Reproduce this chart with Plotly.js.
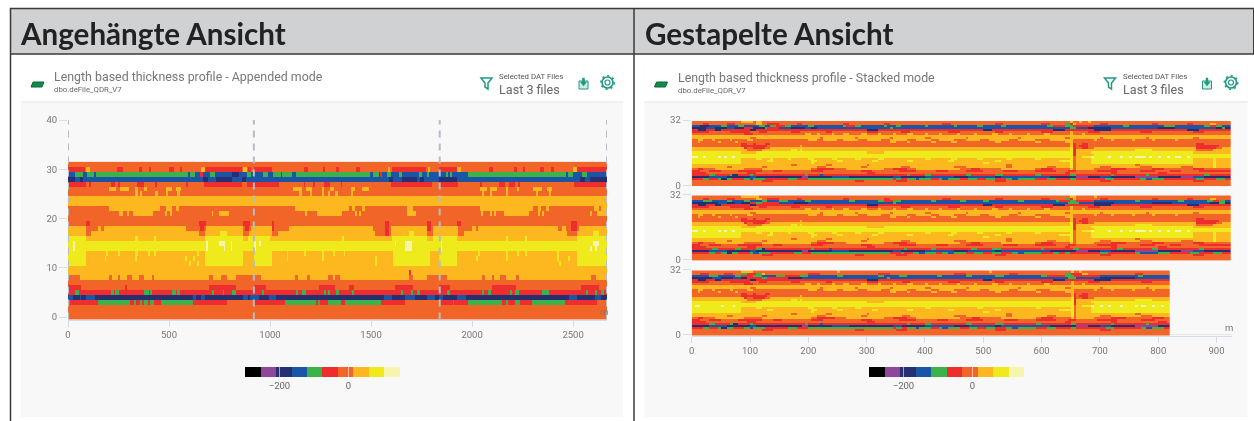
<!DOCTYPE html>
<html><head><meta charset="utf-8">
<script src="https://cdn.plot.ly/plotly-3.0.1.min.js"></script>
<style>html,body{margin:0;padding:0;background:#fff;overflow:hidden}#c{width:1254px;height:421px;filter:blur(0.4px)}</style>
</head><body><div id="c"></div>
<script>
// Value classes: midpoint of each colour bin of the legend (-300..150 in steps of 45)
const classValues = {K:-277.5,P:-232.5,N:-187.5,B:-142.5,G:-97.5,R:-52.5,O:-7.5,A:37.5,Y:82.5,W:127.5};
const binColors = ['#000000','#8e4799','#262f72','#1b55a5','#3cb34a','#ee2e2e','#f26529','#fdb71f','#eeea1c','#f7f4b0'];
const legendTicks = [-200,0];
const fileBoundaries = [0,920,1840,2668];
const appendedXTicks = [0,500,1000,1500,2000,2500];
const appendedYTicks = [0,10,20,30,40];
const stackedXTicks = [0,100,200,300,400,500,600,700,800,900];
const stackedYTicks = [0,32];
const fileLengths = [920,920,828];
const stackedLengths = [926,926,821];

// Each row, top (31) to bottom (0): class letter plus the metre at which it starts
const appendedFile1 = [
"O",
"R O84 A89 O109 R244 O269 R351 O365 R401 O409 R500 O525 R554 O566 A662 R681 O860 A866 O884 R890 O905",
"B G35 B76 G96 B129 G142 B596 G607 B629 R653 B670 G703 B731 N810 B843 G884 B906",
"N B35 N60 B76 N670 B695 N736 B810 N860 B880",
"R O89 R105 O117 R216 O233 R250 O258 R340 O376 R430 O438 R587 O596 R673 O860 R885",
"O A203 O238 A261 O299 A332 O343 A373 O389 A485 O513 A535 O558",
"O A332 O343 A356 O365 A431 O447 A485 O497 A541 O554",
"A",
"A",
"O A203 O455 A485 O513 A535 O548",
"O A257 O269 A290 O298 A320 O422 A480 O488 A505 O513 A714 O722 A749 O802",
"O",
"O R89 O109 R650 O683 R865 O898",
"A O89 A150 O165 A180 O587 R655 O675 A683 O865 R875 O895 A905",
"A O89 A117 O650 A680 Y757 A790 O865 A895",
"Y A89 Y332 A343 Y426 A436 Y680 A865 Y890",
"Y W26 Y36 W683 Y693 W752 Y780 W803 Y811",
"Y W26 Y36 W683 Y693 W775 Y781 W803 Y811",
"Y A89 Y190 A200 Y250 A258 Y332 A343 Y395 A403 Y426 A436 Y640 A650 Y680 A865",
"Y A89 Y185 A190 Y332 A340 Y580 A590 Y620 A628 Y680 A865",
"Y A89 Y600 A612 Y640 A652 Y680 A865",
"A",
"A",
"O A60 O205 A222 O250 A262 O290 A315 O350 A375 O415 A425 O700 A720 O760 A790 O830",
"O",
"R O63 R280 O290 R700 O830",
"R G35 R54 G216 R229 G236 R257 G373 R398 G406 R414 G513 R533 G541 R554 G716 R723 G769 R777 G810 R830",
"B N23 B58 N66 B89 N134 B620 N637 B662 N681 B865 N890 B900",
"O R10 G150 R307 G323 R336 G353 R365 G373 R393 G406 R427 G460 R620 O790",
"O","O","O"];
const appendedFile2 = [
"O",
"R O89 R249 O271 R343 O353 R409 O422 R505 O525 A667 O677 R686 O855 A865 O876",
"B G43 B68 G96 B134 G142 B191 G208 B574 G590 B620 R625 B637 G662 B678 G719 B736 G818 B835 G860 B870",
"B N670 B690 N736 B810 N826 B845",
"R O109 R112 O125 R249 O257 R296 O304 R348 O381 R430 O436 R678 O884",
"O A196 O241 A261 O290 A340 O348 A381 O398 A480 O500 A535 O568",
"O A225 O241 A280 O288 A340 O348 A370 O378 A405 O413 A480 O490",
"A",
"A",
"O A205 O470 A485 O500 A535 O548 A762 O790",
"O A257 O265 A315 O433 A500 O508 A520 O528 A762 O806",
"O",
"O R90 O100 R650 O670 R860 O880",
"A R90 O100 A175 O590 R650 O670 A680 R860 O880 A890",
"A O90 A120 O600 R650 O670 A680 Y770 A795 O860 A890",
"Y A80 Y436 A444 Y686 A860 Y890",
"W Y8 W26 Y33 W700 Y707 W752 Y785",
"W Y8 W752 Y785",
"Y A90 Y165 A172 Y250 A258 Y340 A350 Y395 A405 Y445 A452 Y690 A875",
"Y A90 Y165 A172 Y340 A350 Y600 A612 Y690 A875",
"Y A90 Y600 A612 Y690 A875",
"A",
"A R770 A778",
"O A35 O205 A222 O265 A280 O370 A395 O405 A425 O770 A790 O860",
"O",
"R O60 R325 O405 R470 O495 R700 O790",
"R G40 R48 G209 R218 G240 R262 G348 R358 G370 R380 G408 R420 G485 R495 G730 R740 G780 R790 G810 R825",
"B N26 B76 N112 B645 N686 B752 N802 B860 N900",
"R G155 R312 G320 R330 G370 R432 G452 R629 O748",
"O","O","O"];
const appendedFile3 = [
"O",
"R A87 O104 R244 O264 R368 O385 R414 O426 R500 O521 R554 O566 A660 R678",
"B G30 B38 G50 B62 G142 B624 G637 B660 G703 B731",
"N B87 N695 B720 N745",
"R O90 R200 O208 R294 O327 R343 O373 R392 O400 R665",
"O A200 O236 A252 O285 A330 O340 A385 O393 A467 O511 A533 O561",
"O A212 O222 A252 O260 A330 O340 A478 O488 A545 O555",
"A",
"A",
"O A200 O465 A490 O505 A530 O545 A765 O790 A800",
"O A205 O215 A250 O260 A270 O278 A320 O445 A490 O498 A510 O518 A745 O755 A782",
"O",
"O R87 O105 R650 O680",
"A O88 A162 O178 A192 O585 A605 O625 R650 O680 A690",
"A O88 A120 O630 A680 Y760 A790",
"Y A87 Y330 A338 Y425 A435 Y680",
"Y W10 Y16 W760 Y790",
"Y W10 Y16 W745 Y755 W772 Y780",
"Y A87 Y190 A198 Y330 A338 Y385 A395 Y425 A435 Y580 A590 Y680",
"Y A87 Y180 A190 Y330 A338 Y580 A590 Y635 A645 Y680",
"Y A87 Y590 A600 Y680",
"A",
"A",
"O A35 O210 A225 O258 A270 O300 A330 O380 A395 O750 A775",
"O",
"R O50 R260 O380 R700 O790",
"R G33 R50 G210 R220 G240 R257 G350 R362 G375 R395 G510 R545 G723 R735 G770 R778 G800 R815",
"B N20 B85 N130 B640 N680 B770 N800",
"R G63 R72 G140 R310 G330 R340 G375 R398 G460 R620 O780",
"O","O","O"];

const stackedFile1 = [
"O A85 O105 A112 O120 A650 O655 A665 O670 A680 O685",
"O R20 O30 R60 O75 A110 O118 R130 O150 R180 O190 R260 O270 R330 O340 R430 O445 R520 O535 R600 O615 G640 R648 A655 O660 R700 O715 R790 O800 R850 O860 A890 O900",
"B N15 B30 G50 B60 G80 B90 G115 B125 G135 R145 G160 B170 G200 B208 G260 R265 G280 B290 G330 B337 G350 B360 G400 B405 G450 B455 G490 B500 G530 B540 G610 R620 G640 R655 B690 G740 B750 G810 B830 G880 R890 G900 B910",
"N B25 N40 B60 N75 R90 N105 G125 R130 B150 N170 B195 N205 B215 G340 B345 G650 B660 N680 B720 N800 B830 N900 G910 N915",
"R N10 R25 N40 R50 N100 R110 N300 R320 N500 R515 N620 R640 N690 R720 N850 R870",
"R O30 R65 O100 R115 O130 R170 O185 R230 O240 R300 O320 R360 O375 R440 O460 R520 O535 R600 O620 A650 O655 R680 O700 R770 O790 R860 O880",
"O R90 O105 A195 O203 A215 O222 A240 O246 A262 O270 A290 O298 A320 O326 A345 O352 A372 O380 A400 O406 A425 O432 A455 O462 A485 O492 A515 O525 A545 O552 A575 O582 A605 O615 A650 O655 A670 O675",
"A",
"A O100 A110 O220 A226 O280 A285 O340 A346 O400 A408 O470 A476 O560 A566 O640 A650 O700 A706 O780 A785 O860 A870",
"O A10 O22 A35 O42 A65 O72 A95 O105 A200 O215 A225 O250 A260 O285 A300 O325 A340 O370 A385 O410 A425 O450 A470 O495 A510 O545 A560 O590 A615 A650 O655 A690 O695 A720 O725 A755 O760 A790 O795 A830 O835",
"O A10 O15 A45 O50 A75 O80 A340 O348 A370 O376 A410 O418 A445 O455 A520 O530 A590 O598 A640 O655",
"O R85 O95 R105 O112 R125 O135 A650 R655 O660 R670 O680 R865 O880",
"O R85 O128 A185 O190 A650 R655 O660 R665 O680 R863 O905",
"A R90 O95 R105 O125 A135 Y650 R655 O660 R670 O680 A690 R865 O900 A910",
"A O95 A120 Y170 A178 Y185 A190 Y650 R655 A660 Y760 A790 O865 A895",
"Y A85 Y110 A300 Y330 R655 A660 Y683 A860",
"Y R655 A660 Y690",
"W Y3 W7 Y10 W14 Y17 W21 Y24 W47 Y52 W57 Y62 W70 Y74 W84 Y87 O655 A660 Y670 W686 Y692 W698 Y702 W714 Y720 W735 Y742 W750 Y756 W762 Y768 W772 Y780 W786 Y792 W800 Y806 W814 Y818 W830 Y838 W850 Y856",
"Y A85 Y110 A118 Y135 A142 Y165 A172 Y200 A208 Y240 A250 Y280 A290 Y320 A330 Y400 A408 Y445 A455 Y490 A500 Y540 A548 Y590 A600 Y650 O655 A660 Y683 A860 Y895 A900",
"Y A85 Y130 A138 Y205 A213 Y250 A258 Y310 A318 Y370 A378 Y440 A448 Y520 A528 Y630 O655 A660 Y683 A860 Y895 A900",
"Y A85 Y205 A212 Y500 A510 Y650 O655 A660 Y683 A860 Y895 A900",
"A O170 A178 O230 A238 O300 A306 O540 A548 Y650 O655 A660 O760 A768 Y895 A900",
"A O60 A70 O120 A130 O215 A228 O290 A298 O360 A375 O450 A470 O540 A552 O610 A625 Y650 O655 A660 O700 A720 O770 A790 O840 A860 Y895 A900",
"O R10 O22 A40 O90 A120 O205 R215 O245 A265 O330 R345 O370 A385 O460 R480 O495 A530 O590 R600 O620 A650 O655 A660 O690 R720 O745 R790 O810 R860 O880",
"R O15 R30 O50 R80 O120 R140 O155 R205 O225 R290 O310 R355 O385 R420 O440 R470 O500 R535 O560 R590 O625 R645 O660 R695 O730 R770 O795 R820 O840 R870",
"R O25 R95 O110 R300 O315 R640 O650 R720 O730 R800 O815",
"R G30 R40 G65 N72 R80 G100 R105 G195 R200 B218 R225 G370 R376 G400 R410 G470 R480 G520 R535 G590 R598 G650 R660 G720 R726 G780 R785 G880 R890",
"N B30 N60 B100 N112 P190 N200 B240 N270 B345 N360 B400 N450 B475 N520 B530 N615 P660 N680 B700 N720 P760 N800 P840 B860 N880",
"R G20 R28 G45 N52 G60 R70 G90 B98 G105 R125 G165 R180 G198 R345 G348 R360 G372 B385 G392 R410 G425 B432 G440 R460 G475 R490 G505 R520 G540 B548 G560 R590 G610 R625 G650 R660 G710 R725 G770 B780 G790 R810 G865 R880 G900 R915",
"O R120 O140 R280 O295 R350 O370 R520 O540 R700 O720 R860 O880",
"O","O"];
// Rows of the 2nd and 3rd file that differ from the first (row index from the top)
const stackedFile2Changes = {
 0:"O A85 O115 A650 O660 A690 O695",
 2:"B G20 B35 G60 B72 G90 B100 G120 B128 G150 B165 G195 B205 G270 B280 G320 R330 G345 B360 G410 B420 G460 B470 G500 B512 G560 B570 G625 R632 G650 R660 B690 G760 B770 G835 B845 G885 R895 G905 B915",
 3:"N B45 N60 B75 N85 R100 G112 R120 B150 N175 B200 G345 B352 G645 B665 N690 B725 N790 B825 N890 G905 N915",
 26:"R G35 R46 G75 R85 G110 N118 R125 G205 R212 B235 R242 G365 R372 G410 R418 G480 R490 G515 R530 G600 R606 G655 R665 G730 R738 G790 R798 G870 R882",
 28:"R G30 R38 G50 N60 G70 R80 G100 B106 G115 R135 G175 R188 G205 R340 G358 R365 G380 B392 G400 R420 G430 B440 G450 R470 G485 R498 G515 R530 G550 B558 G570 R600 G620 R632 G640 R650 G700 R715 G760 B772 G800 R820 G855 R870 G895 R910"
};
const stackedFile3Changes = {
 0:"O A85 O105 A250 O256 A510 O516 A650 O655 A665 O670",
 1:"O R15 O30 R55 O70 G85 R95 G110 A118 O125 R200 O220 R320 O340 R450 O470 R545 O560 G640 R650 A670 O680 R760 O775",
 2:"B G30 B45 G75 R85 G105 B120 G145 R160 G185 B200 G250 B260 G320 B330 G355 B372 G420 B430 G470 B480 G520 B535 G600 R612 G640 R655 B700 G765 B775",
 3:"N B35 N50 B70 N85 R95 G120 R128 N165 B190 G335 B342 G645 B660 N700 B760",
 18:"Y A85 Y110 A118 Y200 A208 Y240 A250 Y280 A290 Y400 A408 Y490 A500 Y590 A600 Y650 O655 A660 Y683",
 17:"Y W5 Y8 W12 Y15 W20 Y22 W50 Y53 W60 Y62 W70 Y74 O655 A660 Y670 W686 Y690 W700 Y704 W716 Y720 W735 Y740 W748 Y752 W762 Y766 W772 Y782 W790 Y795 W805 Y809",
 15:"Y A85 Y110 A300 Y330 R655 A660 Y683"
};

function expandRow(row, lengthM, step){
  const toks = row.split(' ').map(t => [t[0], t.length > 1 ? +t.slice(1) : 0]);
  const out = [];
  for (let i = 0, n = Math.round(lengthM/step); i < n; i++){
    const c = i*step + step/2;
    let k = toks[0][0];
    for (const t of toks) if (t[1] <= c) k = t[0];
    out.push(classValues[k]);
  }
  return out;
}
const STEP = 5;
const appendedFiles = [appendedFile1, appendedFile2, appendedFile3];
const appendedZ = [];
for (let r = 0; r <= 31; r++){
  let line = [];
  appendedFiles.forEach((f,i) => { line = line.concat(expandRow(f[31-r], fileLengths[i], STEP)); });
  appendedZ.push(line);
}
function stackedZ(changes, len){
  const z = [];
  for (let r = 0; r <= 31; r++){
    const top = 31-r;
    z.push(expandRow(changes[top] || stackedFile1[top], len, STEP));
  }
  return z;
}
const colorscale = [];
binColors.forEach((c,i) => { colorscale.push([i/10,c]); colorscale.push([(i+1)/10,c]); });

const W = 1254, H = 421;
const px = x => x/W, py = y => 1-y/H;
const tickFont = {family:'Roboto, sans-serif', size:9.5, color:'#777'};

function cbar(x0){
  return {orientation:'h', lenmode:'pixels', len:155, thicknessmode:'pixels', thickness:10,
    x:px(x0), xanchor:'left', y:py(367), yanchor:'top', xpad:0, ypad:0, outlinewidth:0, borderwidth:0,
    tickmode:'array', tickvals:legendTicks, ticktext:['\u2212200','0'], ticks:'inside', ticklen:10, tickwidth:1,
    tickcolor:'rgba(255,255,255,0.55)', tickfont:{family:'Roboto, sans-serif', size:9.5, color:'#666'}};
}
const common = {type:'heatmap', colorscale, zmin:-300, zmax:150, zsmooth:false, hoverinfo:'skip', x0:STEP/2, dx:STEP, y0:0, dy:1};
const traces = [
  Object.assign({}, common, {z:appendedZ, xaxis:'x', yaxis:'y', colorbar:cbar(245), showscale:true}),
  Object.assign({}, common, {z:stackedZ({}, stackedLengths[0]), xaxis:'x2', yaxis:'y2', colorbar:cbar(869), showscale:true}),
  Object.assign({}, common, {z:stackedZ(stackedFile2Changes, stackedLengths[1]), xaxis:'x2', yaxis:'y3', showscale:false}),
  Object.assign({}, common, {z:stackedZ(stackedFile3Changes, stackedLengths[2]), xaxis:'x2', yaxis:'y4', showscale:false})
];

const axisLine = '#d6dde6';
function xAxis(dom, range, ticks, anchor){
  return {domain:[px(dom[0]),px(dom[1])], range, anchor, tickmode:'array', tickvals:ticks, ticks:'outside', ticklen:6, tickwidth:1,
    tickcolor:axisLine, showline:true, linecolor:axisLine, linewidth:1, showgrid:false, zeroline:false, tickfont:tickFont};
}
function yAxis(top, bottom, range, ticks){
  return {domain:[py(bottom),py(top)], range, tickmode:'array', tickvals:ticks, ticks:'outside', ticklen:8, tickwidth:1,
    tickcolor:axisLine, showgrid:true, gridcolor:'#e4e6ea', gridwidth:1, zeroline:false, showline:false, tickfont:tickFont};
}
const yA = yAxis(120,319.5,[-0.5,40],appendedYTicks); yA.anchor='x';
const y2 = yAxis(120,186.3,[-0.5,32],stackedYTicks); y2.anchor='x2';
const y3 = yAxis(194.5,260.8,[-0.5,32],stackedYTicks); y3.anchor='x2';
const y4 = yAxis(269.5,336,[-0.5,32],stackedYTicks); y4.anchor='x2';

const FRAME = '#3a3a3a', TEAL = '#1f9a80';
function rect(x0,y0,x1,y1,fill,line){
  return {type:'rect', xref:'paper', yref:'paper', x0:px(x0), x1:px(x1), y0:py(y0), y1:py(y1), fillcolor:fill,
    line:line ? {color:line,width:1.5} : {width:0}, layer:'below'};
}
function seg(x0,y0,x1,y1,color,width){
  return {type:'line', xref:'paper', yref:'paper', x0:px(x0), x1:px(x1), y0:py(y0), y1:py(y1), line:{color,width}, layer:'below'};
}
function pathShape(points, color, fill, width){
  const d = points.map((p,i)=>(i?'L':'M')+px(p[0])+','+py(p[1])).join(' ')+' Z';
  return {type:'path', xref:'paper', yref:'paper', path:d, line:{color,width:width||1.5}, fillcolor:fill||'rgba(0,0,0,0)', layer:'above'};
}
function circle(cx,cy,r,color,width,dash){
  return {type:'circle', xref:'paper', yref:'paper', x0:px(cx-r), x1:px(cx+r), y0:py(cy+r), y1:py(cy-r),
    line:{color,width,dash:dash||'solid'}, layer:'above'};
}
function cardShapes(dx){
  return [
    rect(21+dx,64,623+dx+(dx?1:0),417,'#f8f8f8'),
    rect(21+dx,64,623+dx+(dx?1:0),101,'#ffffff'),
    seg(21+dx,102,623+dx+(dx?1:0),102,'#eeeeee',1.5),
    pathShape([[33+dx,82],[44+dx,82],[42+dx,87],[31+dx,87]],'#0d6b3a','#138a4b',1),
    pathShape([[481+dx,78],[492+dx,78],[488+dx,83],[488+dx,89],[485+dx,87],[485+dx,83]],TEAL,null,1.5),
    pathShape([[579+dx,81],[579+dx,89],[588+dx,89],[588+dx,81]],TEAL,'rgba(31,154,128,0.2)',1),
    pathShape([[582.5+dx,78],[584.5+dx,78],[584.5+dx,82],[586.5+dx,82],[583.5+dx,86],[580.5+dx,82],[582.5+dx,82]],TEAL,TEAL,0.5),
    circle(607.5+dx,82.5,2.5,TEAL,1.2),
    circle(607.5+dx,82.5,5.5,TEAL,1.6),
    circle(607.5+dx,82.5,6.7,TEAL,1.6,'2px,3.2px')
  ];
}
const dashed = fileBoundaries.map(b => ({type:'line', xref:'x', yref:'y', x0:b, x1:b, y0:-0.5, y1:40,
  line:{color:'#b4bcc4', width:2, dash:'7px,6px'}, layer:'above'}));

const shapes = [
  rect(10,9,1254,54,'#d0d1d3'),
  seg(10,8.5,1254,8.5,FRAME,1.5), seg(10,54,1254,54,FRAME,1.5),
  seg(10.5,8,10.5,421,FRAME,1.5), seg(634,8,634,421,FRAME,1.5),
  seg(1253.5,8,1253.5,54,FRAME,1)
].concat(cardShapes(0), cardShapes(623.5), dashed);

function label(x,y,text,size,color,extra){
  return Object.assign({xref:'paper',yref:'paper',x:px(x),y:py(y),text,showarrow:false,xanchor:'left',yanchor:'middle',
    xshift:0,yshift:0,borderpad:0,font:{family:'Roboto, sans-serif',size,color}},extra||{});
}
const boldHead = {family:'"Lato", "Open Sans", sans-serif', size:29.6, weight:700, color:'#222'};
const annotations = [
  Object.assign(label(19,33,'Angehängte Ansicht',30,'#222'),{font:boldHead}),
  Object.assign(label(643.5,33,'Gestapelte Ansicht',30,'#222'),{font:boldHead}),
  label(52.5,77,'Length based thickness profile - Appended mode',12.4,'#777'),
  label(52.5,89.5,'dbo.deFile_QDR_V7',7.8,'#666'),
  label(497.5,76.5,'Selected DAT Files',7.8,'#555'),
  label(497.5,89,'Last 3 files',12.6,'#666'),
  label(676.5,78,'Length based thickness profile - Stacked mode',12.4,'#777'),
  label(676.5,90.5,'dbo.deFile_QDR_V7',7.8,'#666'),
  label(1121.5,76.5,'Selected DAT Files',7.8,'#555'),
  label(1121.5,89,'Last 3 files',12.6,'#666'),
  label(599,311,'m',9.5,'#777'),
  label(1224,327,'m',9.5,'#777')
];

const layout = {
  width:W, height:H, margin:{l:0,r:0,t:0,b:0}, paper_bgcolor:'#ffffff', plot_bgcolor:'rgba(0,0,0,0)', showlegend:false,
  xaxis:xAxis([68,607],[0,2668],appendedXTicks,'y'),
  yaxis:yA,
  xaxis2:xAxis([691.7,1231.7],[0,926],stackedXTicks,'y4'),
  yaxis2:y2, yaxis3:y3, yaxis4:y4,
  shapes, annotations
};
Plotly.newPlot('c', traces, layout, {displayModeBar:false, staticPlot:true});
</script></body></html>
